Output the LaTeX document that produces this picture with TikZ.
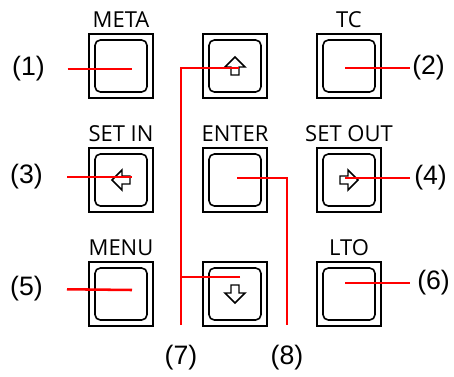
\documentclass[tikz,border=0pt]{standalone}
\usepackage{fontspec}
\newfontfamily\keyfont{Open Sans}
\newfontfamily\numfont{Liberation Sans}
\usetikzlibrary{positioning}

\begin{document}
\begin{tikzpicture}[x=0.75pt,y=-0.75pt,node distance=37.5pt and 37.5pt,
  k/.style={draw,line width=1.5pt,minimum size=48pt,inner sep=0pt,outer sep=0pt,
    path picture={\draw[line width=1.2pt,rounded corners=4pt] ([shift={(4.5pt,-4.5pt)}]path picture bounding box.north west) rectangle ([shift={(-4.5pt,4.5pt)}]path picture bounding box.south east);}},
  kl/.style={font=\keyfont\fontsize{16.5}{18}\selectfont,inner sep=0pt},
  n/.style={font=\numfont\fontsize{20}{22}\selectfont,inner sep=0pt},
  r/.style={draw=red,line width=1.9pt},
  pics/arr/.style={code={\draw[line width=1.1pt] (0,-9) -- (10,1) -- (4,1) -- (4,9) -- (-4,9) -- (-4,1) -- (-10,1) -- cycle;}}]
\useasboundingbox (0,0) rectangle (454,376);
\node[k] (meta) at (121,66) {};
\node[k,right=of meta] (up) {};
\node[k,right=of up] (tc) {};
\node[k,below=of meta] (setin) {};
\node[k,right=of setin] (enter) {};
\node[k,right=of enter] (setout) {};
\node[k,below=of setin] (menu) {};
\node[k,right=of menu] (down) {};
\node[k,right=of down] (lto) {};
\node[kl,above=4.5pt of meta] (lmeta) {META};
\node[kl,above=4.5pt of tc] (ltc) {TC};
\node[kl,above=4.5pt of setin] (lsetin) {SET IN};
\node[kl,above=4.5pt of enter] (lenter) {ENTER};
\node[kl,above=4.5pt of setout] (lsetout) {SET OUT};
\node[kl,above=4.5pt of menu] (lmenu) {MENU};
\node[kl,above=4.5pt of lto] (llto) {LTO};
\pic at (up) {arr}; \pic[rotate=180] at (down) {arr};
\pic[rotate=90] at (setin) {arr}; \pic[rotate=-90] at (setout) {arr};
\coordinate (t1) at (132,69); \coordinate (t2) at (345,68);
\coordinate (t3) at (132,177); \coordinate (t4) at (345,178);
\coordinate (t5) at (132,290); \coordinate (t6) at (345,283);
\coordinate (t7a) at (239,68); \coordinate (t7b) at (240,277);
\coordinate (t8) at (237,178);
\node[n,anchor=east] (n1) at (45,69) {(1)};
\node[n,anchor=east] (n3) at (43,177) {(3)};
\node[n,anchor=east] (n5) at (43,289) {(5)};
\node[n,anchor=west] (n2) at (412,68) {(2)};
\node[n,anchor=west] (n4) at (414,178) {(4)};
\node[n,anchor=west] (n6) at (417,283) {(6)};
\node[n] (n7) at (181,358) {(7)};
\node[n] (n8) at (287,358) {(8)};
\draw[r,shorten <=17pt] (n1.east) -- (t1);
\draw[r,shorten <=18pt] (n3.east) -- (t3);
\draw[r,shorten <=18pt] (n5.east) -- (t5);
\draw[r,shorten >=1.5pt] (t2) -- (n2.west);
\draw[r,shorten >=3pt] (t4) -- (n4.west);
\draw[r,shorten >=5pt] (t6) -- (n6.west);
\draw[r,shorten >=15pt] (t7a) -| (n7);
\draw[r] (t7b) -- (t7b -| n7);
\draw[r,shorten >=15pt] (t8) -| (n8);
\end{tikzpicture}
\end{document}
